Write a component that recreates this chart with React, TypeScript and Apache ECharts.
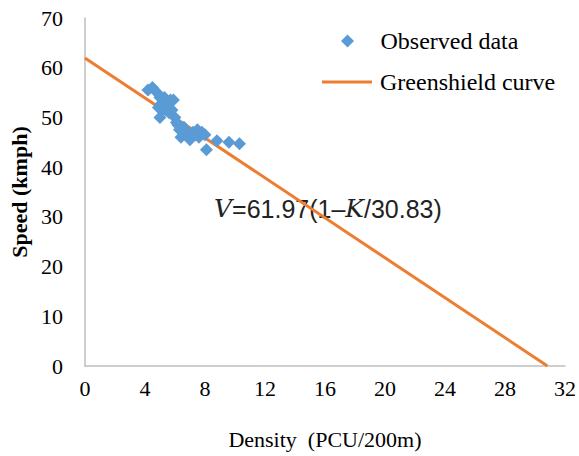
import React, { useEffect, useRef } from "react";
import * as echarts from "echarts";

const densityObs = [4.2, 4.5, 4.8, 5.0, 5.0, 5.2, 5.0, 5.4, 5.5, 5.7, 5.9, 5.8, 6.0, 6.2, 6.4, 6.6, 6.8, 7.0, 7.2, 7.4, 7.6, 7.8, 8.0, 8.1, 8.8, 9.6, 10.3, 4.9, 5.3, 6.1, 6.9, 7.5, 5.6, 5.2, 6.3, 7.1];
const speedObs = [55.5, 56, 55, 54, 52.5, 53.5, 50, 51.5, 52, 53.5, 53.5, 51.5, 50, 48.5, 46, 48, 47, 45.5, 47, 46.5, 46, 47, 46.5, 43.5, 45.3, 45, 44.7, 52, 54, 49, 46, 47.5, 51, 51.5, 47.5, 46.5];
const freeSpeed = 61.97;
const jamDensity = 30.83;
const curveK = [0, jamDensity];
const curveV = [freeSpeed, 0];
const xTicks = { min: 0, max: 32, interval: 4 };
const yTicks = { min: 0, max: 70, interval: 10 };

export default function App() {
  const ref = useRef<HTMLDivElement>(null);
  useEffect(() => {
    document.body.style.margin = "0";
    const chart = echarts.init(ref.current!, null, { renderer: "svg" });
    const serif = "Liberation Serif";
    const faint = "rgba(255,255,255,0.01)";
    const legendText = { fontFamily: serif, fontSize: 24, color: "#000", padding: [0, 0, 0, 3] };
    const tickLabel = { fontFamily: serif, fontSize: 22, color: "#000" };
    const faintTick = { show: true, length: 1, lineStyle: { color: faint, width: 1 } };
    const faintSplit = { show: true, lineStyle: { color: faint, width: 1 } };
    chart.setOption({
      animation: false,
      backgroundColor: "#ffffff",
      grid: { left: 83, top: 18, width: 482, height: 348 },
      legend: [
        {
          orient: "vertical",
          left: 341,
          top: 29,
          padding: 0,
          itemWidth: 50,
          itemHeight: 13,
          symbolKeepAspect: true,
          textStyle: legendText,
          data: [{ name: "Observed data", icon: "path://M0,-1L1,0L0,1L-1,0Z" }],
        },
        {
          orient: "vertical",
          left: 322,
          top: 70,
          padding: 0,
          itemWidth: 50,
          itemHeight: 3,
          textStyle: legendText,
          data: [{ name: "Greenshield curve", icon: "rect" }],
        },
      ],
      xAxis: {
        type: "value",
        ...xTicks,
        name: "Density  (PCU/200m)",
        nameLocation: "middle",
        nameGap: 62,
        nameTextStyle: { fontFamily: serif, fontSize: 22, color: "#000" },
        axisLine: { show: true, lineStyle: { color: "#BFBFBF", width: 1.5 } },
        axisTick: faintTick,
        splitLine: faintSplit,
        axisLabel: { ...tickLabel, margin: 11 },
      },
      yAxis: {
        type: "value",
        ...yTicks,
        name: "Speed (kmph)",
        nameLocation: "middle",
        nameGap: 50,
        nameTextStyle: { fontFamily: serif, fontSize: 22, color: "#000", fontWeight: "bold" },
        axisLine: { show: true, lineStyle: { color: "#BFBFBF", width: 1.5 } },
        axisTick: faintTick,
        splitLine: faintSplit,
        axisLabel: { ...tickLabel, margin: 22 },
      },
      series: [
        {
          name: "Greenshield curve",
          type: "line",
          data: curveK.map((k, i) => [k, curveV[i]]),
          symbol: "none",
          lineStyle: { color: "#ED7D31", width: 3 },
          itemStyle: { color: "#ED7D31" },
          z: 3,
        },
        {
          name: "Observed data",
          type: "scatter",
          data: densityObs.map((k, i) => [k, speedObs[i]]),
          symbol: "diamond",
          symbolSize: 13,
          itemStyle: { color: "#5B9BD5", opacity: 1 },
          z: 4,
        },
      ],
      graphic: [
        {
          type: "text",
          left: 214,
          top: 196,
          style: {
            text: "{i|V}{n|=61.97(1–}{i|K}{n|/30.83)}",
            rich: {
              i: { fontFamily: "DejaVu Serif", fontStyle: "italic", fontSize: 25, fill: "#222" },
              n: { fontFamily: "Liberation Sans", fontSize: 25, fill: "#222" },
            },
          },
        },
      ],
    });
    return () => chart.dispose();
  }, []);
  return <div ref={ref} style={{ width: 579, height: 456 }} />;
}
